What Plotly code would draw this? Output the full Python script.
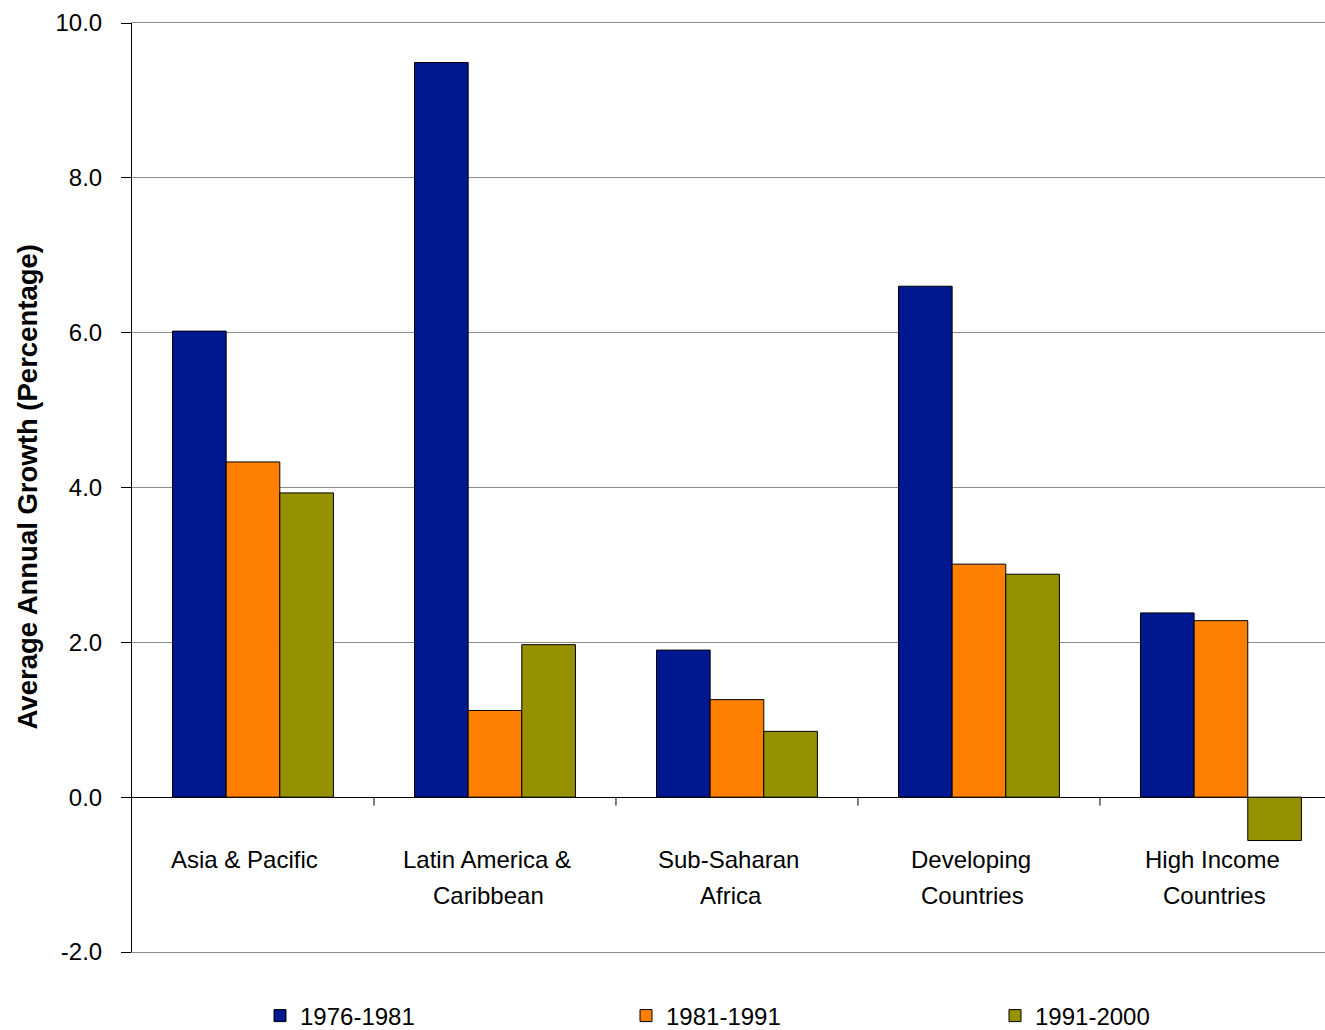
import plotly.graph_objects as go

categories = ["Asia & Pacific", "Latin America &<br>Caribbean", "Sub-Saharan<br>Africa",
              "Developing<br>Countries", "High Income<br>Countries"]
series_names = ["1976-1981", "1981-1991", "1991-2000"]
v_1976_1981 = [6.02, 9.49, 1.90, 6.60, 2.38]
v_1981_1991 = [4.33, 1.12, 1.26, 3.01, 2.28]
v_1991_2000 = [3.93, 1.97, 0.85, 2.88, -0.56]
y_ticks = [-2.0, 0.0, 2.0, 4.0, 6.0, 8.0, 10.0]
y_tick_labels = ["-2.0", "0.0", "2.0", "4.0", "6.0", "8.0", "10.0"]
y_title = "Average Annual Growth (Percentage)"

colors = ["#00188F", "#FF8000", "#959100"]
FONT = "Liberation Sans, Arial, sans-serif"
legend_ids = ["legend", "legend2", "legend3"]
legend_x = [260, 626, 995]

x_idx = list(range(len(categories)))
fig = go.Figure()
for name, vals, col, lg in zip(series_names, [v_1976_1981, v_1981_1991, v_1991_2000], colors, legend_ids):
    fig.add_trace(go.Bar(x=x_idx, y=vals, name=name, legend=lg,
                         marker=dict(color=col, line=dict(color="black", width=1))))

annotations = []
line_xshift = [-8, -6]
for i, lab in enumerate(categories):
    for j, line in enumerate(lab.split("<br>")):
        annotations.append(dict(x=i, y=0, xref="x", yref="y", text=line, showarrow=False,
                                yanchor="middle", yshift=-62 - 36 * j, xshift=line_xshift[j],
                                font=dict(family=FONT, size=24, color="black")))
annotations.append(dict(x=(27 - 132) / 1193, y=0.5, xref="paper", yref="paper",
                        text="<b>" + y_title + "</b>", textangle=-90, showarrow=False,
                        xanchor="center", yanchor="middle",
                        font=dict(family=FONT, size=27.5, color="black")))

shapes = []
for i in range(len(categories) - 1):
    shapes.append(dict(type="line", xref="x", yref="y", x0=i + 0.5, x1=i + 0.5, y0=0, y1=-0.11,
                       line=dict(color="black", width=1)))

legend_common = dict(xref="container", yref="container", xanchor="left", yanchor="middle",
                     y=14 / 1030, font=dict(size=24), bgcolor="rgba(0,0,0,0)")
layout_legends = {lg: dict(x=lx / 1325, **legend_common) for lg, lx in zip(legend_ids, legend_x)}

fig.update_layout(
    width=1325, height=1030,
    margin=dict(l=132, r=0, t=23, b=78, autoexpand=False),
    paper_bgcolor="white", plot_bgcolor="white",
    barmode="group", bargap=0.335, bargroupgap=0,
    font=dict(family=FONT, size=24, color="black"),
    showlegend=True,
    annotations=annotations,
    shapes=shapes,
    **layout_legends,
)
fig.update_xaxes(range=[-0.5, 4.43], showticklabels=False, showgrid=False, zeroline=False,
                 showline=True, linecolor="#8c8c8c", linewidth=1, mirror=True, ticks="")
fig.update_yaxes(range=[-2, 10], tickvals=y_ticks, ticktext=y_tick_labels,
                 showgrid=True, gridcolor="#8c8c8c", gridwidth=1,
                 zeroline=True, zerolinecolor="black", zerolinewidth=1,
                 showline=True, linecolor="black", linewidth=1,
                 ticks="outside", ticklen=10, tickcolor="black", ticklabelstandoff=14,
                 tickfont=dict(size=24))

fig.write_html("out.html")
